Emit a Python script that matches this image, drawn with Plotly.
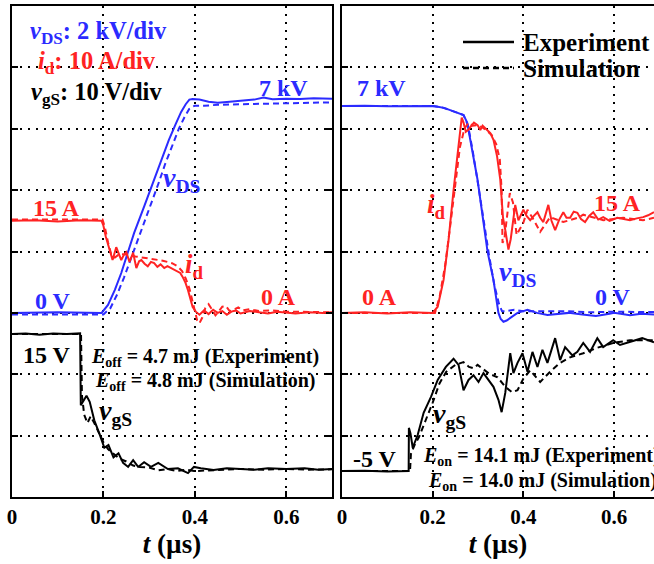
import plotly.graph_objects as go

# ---------------- data (t in µs) ----------------
# Turn-off (left panel)
VDS_OFF_EXP = [(0, 0), (0.10, 0.02), (0.196, 0), (0.21, 0.26), (0.225, 0.75), (0.239, 1.3), (0.253, 1.95),
               (0.267, 2.6), (0.29, 3.5), (0.311, 4.33), (0.327, 5.0), (0.343, 5.63), (0.358, 6.15), (0.37, 6.55),
               (0.38, 6.8), (0.388, 6.95), (0.395, 6.97), (0.41, 6.95), (0.43, 6.88), (0.45, 6.85), (0.47, 6.87),
               (0.49, 6.9), (0.51, 6.92), (0.53, 6.95), (0.55, 7.02), (0.57, 6.96), (0.60, 6.98), (0.63, 6.97),
               (0.66, 6.99), (0.70, 6.98)]
VDS_OFF_SIM = [(0, -0.05), (0.2, -0.05), (0.215, 0.15), (0.23, 0.6), (0.245, 1.15), (0.26, 1.75), (0.275, 2.35),
               (0.3, 3.4), (0.32, 4.2), (0.335, 4.85), (0.35, 5.45), (0.365, 6.0), (0.378, 6.4), (0.388, 6.65),
               (0.395, 6.72), (0.40, 6.75), (0.42, 6.75), (0.45, 6.78), (0.5, 6.8), (0.55, 6.82), (0.6, 6.83),
               (0.65, 6.85), (0.7, 6.86)]
ID_OFF_EXP = [(0, 15), (0.05, 15.1), (0.1, 14.9), (0.15, 15.1), (0.196, 15), (0.2, 14.2), (0.205, 12.5),
              (0.212, 10.5), (0.22, 8.6), (0.228, 10.7), (0.233, 9.6), (0.239, 8.6), (0.245, 9.5), (0.25, 9.9),
              (0.257, 8.3), (0.265, 9.8), (0.272, 7.3), (0.278, 8.4), (0.283, 8.6), (0.29, 8.0), (0.297, 7.6),
              (0.304, 8.3), (0.311, 8.1), (0.318, 7.5), (0.325, 7.9), (0.333, 7.3), (0.34, 7.6), (0.348, 7.3),
              (0.355, 7.0), (0.363, 6.7), (0.368, 6.5), (0.373, 5.9), (0.379, 5.0), (0.385, 3.7), (0.39, 2.3),
              (0.395, 1.0), (0.402, 0.2), (0.41, -0.3), (0.42, 0.4), (0.43, -0.2), (0.44, 0.5), (0.45, 0.0),
              (0.46, 0.3), (0.47, -0.3), (0.48, 0.2), (0.49, 0.4), (0.5, -0.1), (0.52, 0.3), (0.54, 0.1),
              (0.56, -0.1), (0.58, 0.2), (0.6, 0.1), (0.62, -0.1), (0.65, 0.1), (0.68, 0.0), (0.7, 0.1)]
ID_OFF_SIM = [(0, 15.2), (0.1, 15.2), (0.198, 15.2), (0.203, 14.0), (0.21, 11.5), (0.218, 9.3), (0.225, 9.0),
              (0.235, 9.6), (0.25, 9.5), (0.27, 9.2), (0.29, 9.0), (0.31, 8.7), (0.33, 8.5), (0.35, 8.1),
              (0.362, 7.6), (0.372, 6.8), (0.38, 5.6), (0.388, 4.0), (0.395, 2.0), (0.40, 0.3), (0.405, -1.2),
              (0.41, -1.7), (0.416, -0.8), (0.423, 0.8), (0.43, 1.4), (0.437, 0.6), (0.445, -0.4), (0.452, 0.2),
              (0.46, 1.0), (0.468, 1.1), (0.476, 0.3), (0.485, 0.5), (0.495, 0.9), (0.505, 0.4), (0.52, 0.6),
              (0.54, 0.3), (0.57, 0.4), (0.6, 0.2), (0.65, 0.2), (0.7, 0.1)]
VGS_OFF_EXP = [(0, 15), (0.03, 15.1), (0.06, 14.9), (0.09, 15.1), (0.12, 15.0), (0.149, 15.1), (0.1505, 4.6),
               (0.157, 5.4), (0.163, 6.0), (0.170, 5.1), (0.180, 2.4), (0.191, 0.5), (0.202, -1.6), (0.211, -1.2),
               (0.222, -3.0), (0.233, -2.4), (0.243, -3.8), (0.254, -4.4), (0.265, -3.4), (0.276, -4.4),
               (0.289, -3.7), (0.304, -4.4), (0.320, -3.8), (0.341, -4.7), (0.363, -4.6), (0.385, -5.3),
               (0.398, -4.4), (0.413, -4.6), (0.441, -4.85), (0.47, -4.6), (0.5, -4.7), (0.53, -4.8),
               (0.56, -4.6), (0.6, -4.7), (0.64, -4.6), (0.67, -4.8), (0.7, -4.7)]
VGS_OFF_SIM = [(0, 15), (0.1, 15), (0.151, 15), (0.153, 6.0), (0.158, 3.2), (0.165, 2.0), (0.172, 3.0),
               (0.18, 2.0), (0.19, 0.6), (0.2, -0.8), (0.21, -1.8), (0.22, -2.4), (0.235, -3.2), (0.25, -3.6),
               (0.265, -4.2), (0.28, -4.4), (0.3, -4.5), (0.32, -4.9), (0.34, -4.7), (0.36, -5.0), (0.38, -4.8),
               (0.4, -5.0), (0.43, -4.9), (0.46, -4.8), (0.5, -4.7), (0.55, -4.8), (0.6, -4.7), (0.65, -4.8),
               (0.7, -4.75)]

# Turn-on (right panel)
VDS_ON_EXP = [(0, 6.74), (0.05, 6.75), (0.1, 6.73), (0.15, 6.74), (0.2, 6.74), (0.211, 6.72), (0.225, 6.68),
              (0.24, 6.6), (0.255, 6.52), (0.268, 6.45), (0.276, 6.2), (0.285, 5.4), (0.292, 4.9), (0.299, 4.33),
              (0.31, 3.2), (0.321, 1.99), (0.334, 1.07), (0.345, 0.0), (0.35, -0.2), (0.356, -0.29),
              (0.363, -0.25), (0.371, -0.16), (0.38, -0.05), (0.387, 0.0), (0.398, 0.05), (0.409, 0.1),
              (0.42, 0.05), (0.43, 0.0), (0.453, -0.07), (0.48, -0.03), (0.5, 0.0), (0.53, -0.05), (0.56, -0.1),
              (0.59, -0.03), (0.6, 0.0), (0.635, -0.08), (0.66, -0.03), (0.688, -0.05)]
VDS_ON_SIM = [(0, 6.74), (0.2, 6.74), (0.22, 6.7), (0.25, 6.55), (0.268, 6.45), (0.278, 6.1), (0.288, 5.3),
              (0.3, 4.2), (0.312, 3.0), (0.324, 1.9), (0.336, 0.9), (0.346, 0.3), (0.353, 0.05), (0.36, 0.05),
              (0.37, 0.08), (0.38, 0.1), (0.4, 0.05), (0.43, 0.05), (0.46, 0.03), (0.5, 0.05), (0.55, 0.02),
              (0.6, 0.04), (0.65, 0.03), (0.688, 0.03)]
ID_ON_EXP = [(0, 0), (0.05, 0.1), (0.1, -0.1), (0.15, 0.1), (0.2, 0), (0.211, 1.0), (0.224, 5.4), (0.235, 11.9),
             (0.246, 20), (0.255, 26.5), (0.264, 31.8), (0.268, 31.0), (0.273, 29.5), (0.278, 29.8),
             (0.284, 30.3), (0.291, 31.0), (0.299, 30.6), (0.305, 29.8), (0.31, 30.5), (0.316, 30.1),
             (0.322, 29.6), (0.327, 29.3), (0.334, 28.2), (0.342, 25.5), (0.349, 21.7), (0.355, 15.5),
             (0.360, 13.5), (0.367, 10.3), (0.372, 12.0), (0.376, 14.0), (0.382, 17.6), (0.389, 15.1),
             (0.394, 16.0), (0.400, 16.8), (0.407, 15.8), (0.415, 15.1), (0.423, 15.8), (0.431, 16.4),
             (0.437, 15.5), (0.444, 14.8), (0.455, 17.6), (0.462, 15.0), (0.470, 13.5), (0.479, 15.2),
             (0.488, 16.4), (0.495, 15.5), (0.503, 15.5), (0.511, 16.5), (0.519, 16.3), (0.527, 15.3),
             (0.536, 14.8), (0.545, 15.8), (0.554, 16.4), (0.565, 15.2), (0.576, 15.6), (0.59, 15.0),
             (0.607, 15.5), (0.62, 15.3), (0.635, 15.1), (0.65, 15.4), (0.664, 15.6), (0.675, 15.9), (0.688, 16.4)]
ID_ON_SIM = [(0, 0), (0.2, 0), (0.205, 0), (0.215, 2.5), (0.228, 8), (0.24, 15), (0.25, 21.5), (0.26, 27),
             (0.27, 30), (0.279, 31), (0.288, 30.5), (0.299, 30.6), (0.31, 30.2), (0.32, 29.6), (0.33, 29.0),
             (0.34, 27.5), (0.348, 25), (0.352, 20), (0.354, 11.4), (0.358, 12), (0.363, 15), (0.37, 19.5),
             (0.377, 18), (0.385, 12.7), (0.4, 14.7), (0.409, 16.8), (0.42, 15.5), (0.437, 13.2), (0.459, 15.6),
             (0.488, 14.8), (0.52, 15.5), (0.532, 16.0), (0.576, 15.1), (0.62, 15.5), (0.664, 15.1), (0.688, 15.5)]
VGS_ON_EXP = [(0, -5), (0.05, -4.95), (0.1, -5.05), (0.147, -5), (0.1475, 1.3), (0.151, 0.5), (0.156, -1.6),
              (0.167, 0.3), (0.180, 3.5), (0.196, 5.8), (0.211, 8.3), (0.229, 10.2), (0.246, 11.4),
              (0.257, 10.5), (0.268, 6.8), (0.279, 8.3), (0.290, 9.0), (0.301, 8.0), (0.312, 9.3), (0.323, 8.3),
              (0.334, 7.3), (0.345, 5.4), (0.352, 3.6), (0.360, 6.4), (0.371, 12.2), (0.378, 9.3), (0.387, 10.8),
              (0.398, 12.2), (0.409, 9.5), (0.420, 12.4), (0.431, 10.2), (0.442, 12.7), (0.453, 10.8),
              (0.470, 14.4), (0.481, 11.2), (0.492, 13.1), (0.508, 11.9), (0.519, 12.4), (0.532, 13.7),
              (0.547, 12.4), (0.563, 14.4), (0.576, 13.1), (0.598, 14.1), (0.613, 13.4), (0.635, 13.8),
              (0.662, 14.4), (0.688, 13.8)]
VGS_ON_SIM = [(0, -5), (0.15, -5), (0.152, -2.5), (0.16, -1.2), (0.17, 0.0), (0.185, 2.5), (0.2, 5.0),
              (0.215, 7.8), (0.23, 9.5), (0.25, 10.5), (0.268, 10.9), (0.28, 10.2), (0.29, 10.0), (0.299, 10.5),
              (0.31, 10.0), (0.325, 9.2), (0.343, 8.7), (0.36, 7.3), (0.375, 6.5), (0.387, 6.8), (0.4, 8.5),
              (0.415, 9.7), (0.437, 8.0), (0.459, 9.5), (0.481, 10.8), (0.503, 11.6), (0.532, 12.2),
              (0.563, 13.0), (0.598, 13.7), (0.635, 14.1), (0.688, 14.1)]

X_TICKS = [0, 0.2, 0.4, 0.6]
X_TICK_TEXT = ["0", "0.2", "0.4", "0.6"]

# ---------------- style ----------------
BLUE = "#2b2bff"
RED = "#ff2323"
BLACK = "#000000"
FONT = "Liberation Serif"
W, H = 654, 564
ML, MR, MT, MB = 12, 0, 6, 67
DASH = "6px,4px"

# axis ranges for each signal over the 8 vertical divisions
VDS_RANGE = [-6, 10]       # 2 kV/div, 0 V at div 3  (main axis, carries the grid)
ID_RANGE = [-30, 50]       # 10 A/div, 0 A at div 3
VGS_RANGE = [-8.79, 62.9]  # gate voltage trace scale

fig = go.Figure()


def add(series, xa, ya, color, dash):
    t = [p[0] for p in series]
    v = [p[1] for p in series]
    fig.add_trace(go.Scatter(x=t, y=v, xaxis=xa, yaxis=ya, mode="lines", showlegend=False,
                             line=dict(color=color, width=2, dash=dash)))


# left panel: y = vDS (kV), y3 = id (A), y4 = vgS (V)
add(VDS_OFF_SIM, "x", "y", BLUE, DASH)
add(VDS_OFF_EXP, "x", "y", BLUE, "solid")
add(VGS_OFF_SIM, "x", "y4", BLACK, DASH)
add(VGS_OFF_EXP, "x", "y4", BLACK, "solid")
add(ID_OFF_SIM, "x", "y3", RED, DASH)
add(ID_OFF_EXP, "x", "y3", RED, "solid")
# right panel: y2 = vDS (kV), y5 = id (A), y6 = vgS (V)
add(VDS_ON_SIM, "x2", "y2", BLUE, DASH)
add(VDS_ON_EXP, "x2", "y2", BLUE, "solid")
add(VGS_ON_SIM, "x2", "y6", BLACK, DASH)
add(VGS_ON_EXP, "x2", "y6", BLACK, "solid")
add(ID_ON_SIM, "x2", "y5", RED, DASH)
add(ID_ON_EXP, "x2", "y5", RED, "solid")

pw = W - ML - MR
ph = H - MT - MB


def px(x):
    return (x - ML) / pw


def py(y):
    return (H - MB - y) / ph


grid = dict(showgrid=True, gridcolor=BLACK, gridwidth=2, griddash="2px,6px", zeroline=False,
            showline=True, linecolor=BLACK, linewidth=2)
xcommon = dict(grid, tickvals=X_TICKS, ticktext=X_TICK_TEXT, ticks="inside", ticklen=6, tickwidth=1.5,
               tickcolor=BLACK, mirror=True,
               tickfont=dict(family=FONT, size=21, color=BLACK, weight="bold"),
               title=dict(text="<i>t</i> (µs)", font=dict(family=FONT, size=27, color=BLACK, weight="bold"),
                          standoff=2))
ycommon = dict(grid, range=VDS_RANGE, tickmode="linear", tick0=0, dtick=2, showticklabels=False,
               ticks="inside", ticklen=6, tickwidth=1.5, tickcolor=BLACK)
hidden = dict(showgrid=False, zeroline=False, showline=False, showticklabels=False, ticks="")

left_right = px(332)
right_left = px(342)

fig.update_layout(
    width=W, height=H, margin=dict(l=ML, r=MR, t=MT, b=MB),
    paper_bgcolor="white", plot_bgcolor="rgba(0,0,0,0)", template="none", showlegend=False,
    xaxis=dict(xcommon, domain=[0, left_right], range=[0, 0.7], anchor="y"),
    yaxis=dict(ycommon, domain=[0, 1], anchor="x", mirror="ticks"),
    yaxis3=dict(hidden, overlaying="y", anchor="x", range=ID_RANGE),
    yaxis4=dict(hidden, overlaying="y", anchor="x", range=VGS_RANGE),
    xaxis2=dict(xcommon, domain=[right_left, 1], range=[0, 0.688], anchor="y2"),
    yaxis2=dict(ycommon, domain=[0, 1], anchor="x2", mirror=False),
    yaxis5=dict(hidden, overlaying="y2", anchor="x2", range=ID_RANGE),
    yaxis6=dict(hidden, overlaying="y2", anchor="x2", range=VGS_RANGE),
)

LABELS = [
    # text, x(px), y(px), anchor, color, size
    ("<i>v</i><sub>DS</sub>: 2 kV/div", 28, 33, "left", BLUE, 24.5),
    ("<i>i</i><sub>d</sub>: 10 A/div", 36, 63, "left", RED, 24.5),
    ("<i>v</i><sub>gS</sub>: 10 V/div", 29, 94, "left", BLACK, 24.5),
    ("7 kV", 283, 88, "center", BLUE, 24),
    ("<i>v</i><sub>DS</sub>", 161, 180, "left", BLUE, 28),
    ("15 A", 57, 208, "center", RED, 24),
    ("<i>i</i><sub>d</sub>", 183, 266, "left", RED, 27),
    ("0 V", 53, 301, "center", BLUE, 24),
    ("0 A", 278, 297, "center", RED, 24),
    ("15 V", 47, 355, "center", BLACK, 24),
    ("<i>E</i><sub>off</sub> = 4.7 mJ (Experiment)", 89, 357, "left", BLACK, 20),
    ("<i>E</i><sub>off</sub> = 4.8 mJ (Simulation)", 93, 381, "left", BLACK, 20),
    ("<i>v</i><sub>gS</sub>", 97, 412, "left", BLACK, 28),
    ("7 kV", 381, 88, "center", BLUE, 24),
    ("<i>i</i><sub>d</sub>", 425, 206, "left", RED, 27),
    ("15 A", 617, 203, "center", RED, 24),
    ("<i>v</i><sub>DS</sub>", 497, 273, "left", BLUE, 28),
    ("0 A", 380, 297, "center", RED, 24),
    ("0 V", 613, 297, "center", BLUE, 24),
    ("<i>v</i><sub>gS</sub>", 431, 416, "left", BLACK, 28),
    ("-5 V", 375, 459, "center", BLACK, 24),
    ("<i>E</i><sub>on</sub> = 14.1 mJ (Experiment)", 421, 456, "left", BLACK, 20),
    ("<i>E</i><sub>on</sub> = 14.0 mJ (Simulation)", 426, 481, "left", BLACK, 20),
]
for text, x, y, anchor, color, size in LABELS:
    fig.add_annotation(text=text, x=px(x), y=py(y), xref="paper", yref="paper", xanchor=anchor,
                       yanchor="middle", showarrow=False,
                       font=dict(family=FONT, size=size, color=color, weight="bold"))

# legend (line samples + text)
LEGEND = [("Experiment", 42, "solid"), ("Simulation", 68, DASH)]
for name, y, dash in LEGEND:
    fig.add_shape(type="line", xref="paper", yref="paper", x0=px(463), x1=px(514), y0=py(y), y1=py(y),
                  line=dict(color=BLACK, width=2.5, dash=dash))
    fig.add_annotation(text=name, x=px(521), y=py(y), xref="paper", yref="paper", xanchor="left",
                       yanchor="middle", showarrow=False,
                       font=dict(family=FONT, size=25, color=BLACK, weight="bold"))

fig.write_html("out.html")
